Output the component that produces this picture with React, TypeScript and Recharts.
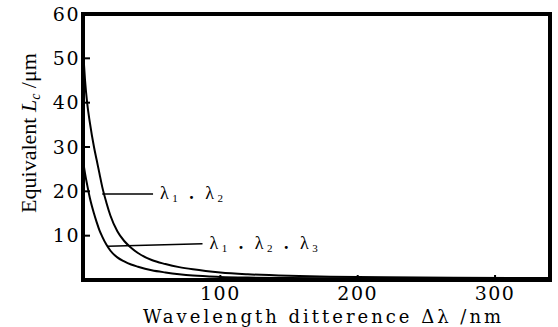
import { LineChart, Line, XAxis, YAxis, ReferenceArea, ReferenceLine } from "recharts";

// wavelength difference Δλ (nm)
const deltaLambda = [0, 1.5, 3, 5, 8, 10, 12, 14, 17, 20, 25, 30, 35, 40, 50, 60, 70, 80, 100, 120, 150, 180, 220, 270, 340];
// equivalent length, two wavelengths (λ1, λ2)
const twoWave = [52, 45, 40, 35.5, 30, 27, 24, 21, 17.5, 14.5, 11, 8.8, 7.3, 6.1, 4.5, 3.6, 2.9, 2.4, 1.7, 1.3, 0.95, 0.75, 0.6, 0.5, 0.45];
// equivalent length, three wavelengths (λ1, λ2, λ3)
const threeWave = [27, 24, 21.5, 18.5, 15, 13, 11.2, 9.8, 8, 6.6, 5.1, 4.2, 3.5, 3.0, 2.2, 1.7, 1.3, 1.0, 0.7, 0.55, 0.45, 0.4, 0.35, 0.3, 0.3];

const xTicks = [100, 200, 300];
const yTicks = [10, 20, 30, 40, 50, 60];

const data = deltaLambda.map((x, i) => ({ x, two: twoWave[i], three: threeWave[i] }));

const SERIF = "'DejaVu Serif', 'Liberation Serif', serif";
const TIMES = "'Liberation Serif', serif";

function LambdaLabel({ viewBox, three }: any) {
  const x = viewBox.x + viewBox.width + 7;
  const y = viewBox.y + 5;
  const sub = { fontSize: 11, dy: 3 } as any;
  return (
    <text x={x} y={y} fontFamily={TIMES} fontSize={18} fill="#000" letterSpacing={3.5}>
      λ<tspan {...sub}>1</tspan>
      <tspan dy={-3} fontWeight="bold"> . </tspan>λ
      <tspan {...sub}>2</tspan>
      {three ? (
        <>
          <tspan dy={-3} fontWeight="bold"> . </tspan>λ
          <tspan {...sub}>3</tspan>
        </>
      ) : null}
    </text>
  );
}

export default function App() {
  return (
    <div style={{ position: "absolute", left: 0, top: 0, background: "#fff" }}>
      <LineChart
        width={558}
        height={327}
        data={data}
        margin={{ top: 14, right: 8, bottom: 0, left: 0 }}
      >
        <XAxis
          dataKey="x"
          type="number"
          domain={[0, 340]}
          ticks={xTicks}
          height={47}
          axisLine={false}
          tickSize={-5}
          tickMargin={12}
          tickLine={{ stroke: "#000", strokeWidth: 2 }}
          tick={{ fill: "#000", fontSize: 19, fontFamily: SERIF, letterSpacing: 1.5 }}
          label={{
            content: ({ viewBox }: any) => (
              <text
                x={viewBox.x + viewBox.width / 2 + 7}
                y={viewBox.y + 43}
                textAnchor="middle"
                fontFamily={SERIF}
                fontSize={18}
                letterSpacing={3}
                fill="#000"
              >
                Wavelength ditterence Δλ /nm
              </text>
            ),
          }}
        />
        <YAxis
          type="number"
          domain={[0, 60]}
          ticks={yTicks}
          width={83}
          axisLine={false}
          tickSize={-7}
          tickMargin={10}
          tickLine={{ stroke: "#000", strokeWidth: 2 }}
          tick={{ fill: "#000", fontSize: 19, fontFamily: SERIF, letterSpacing: 1.5 }}
          label={{
            content: () => {
              const cx = 36;
              const cy = 133;
              return (
                <text
                  x={cx}
                  y={cy}
                  transform={`rotate(-90 ${cx} ${cy})`}
                  textAnchor="middle"
                  fontFamily={TIMES}
                  fontSize={22}
                  fill="#000"
                >
                  Equivalent <tspan fontStyle="italic">L</tspan>
                  <tspan fontStyle="italic" fontSize={14} dy={4}>c</tspan>
                  <tspan dy={-4}> /μm</tspan>
                </text>
              );
            },
          }}
        />
        <ReferenceArea
          x1={0}
          x2={340}
          y1={0}
          y2={60}
          fill="none"
          fillOpacity={0}
          stroke="#000"
          strokeWidth={4}
          ifOverflow="visible"
        />
        <Line
          type="monotone"
          dataKey="two"
          stroke="#000"
          strokeWidth={2}
          dot={false}
          isAnimationActive={false}
        />
        <Line
          type="monotone"
          dataKey="three"
          stroke="#000"
          strokeWidth={2}
          dot={false}
          isAnimationActive={false}
        />
        <ReferenceLine
          segment={[{ x: 14, y: 19.4 }, { x: 51, y: 19.4 }]}
          stroke="#000"
          strokeWidth={1.5}
          label={(props: any) => <LambdaLabel {...props} />}
        />
        <ReferenceLine
          segment={[{ x: 18, y: 7.6 }, { x: 87, y: 8.2 }]}
          stroke="#000"
          strokeWidth={1.5}
          label={(props: any) => <LambdaLabel {...props} three />}
        />
      </LineChart>
    </div>
  );
}
